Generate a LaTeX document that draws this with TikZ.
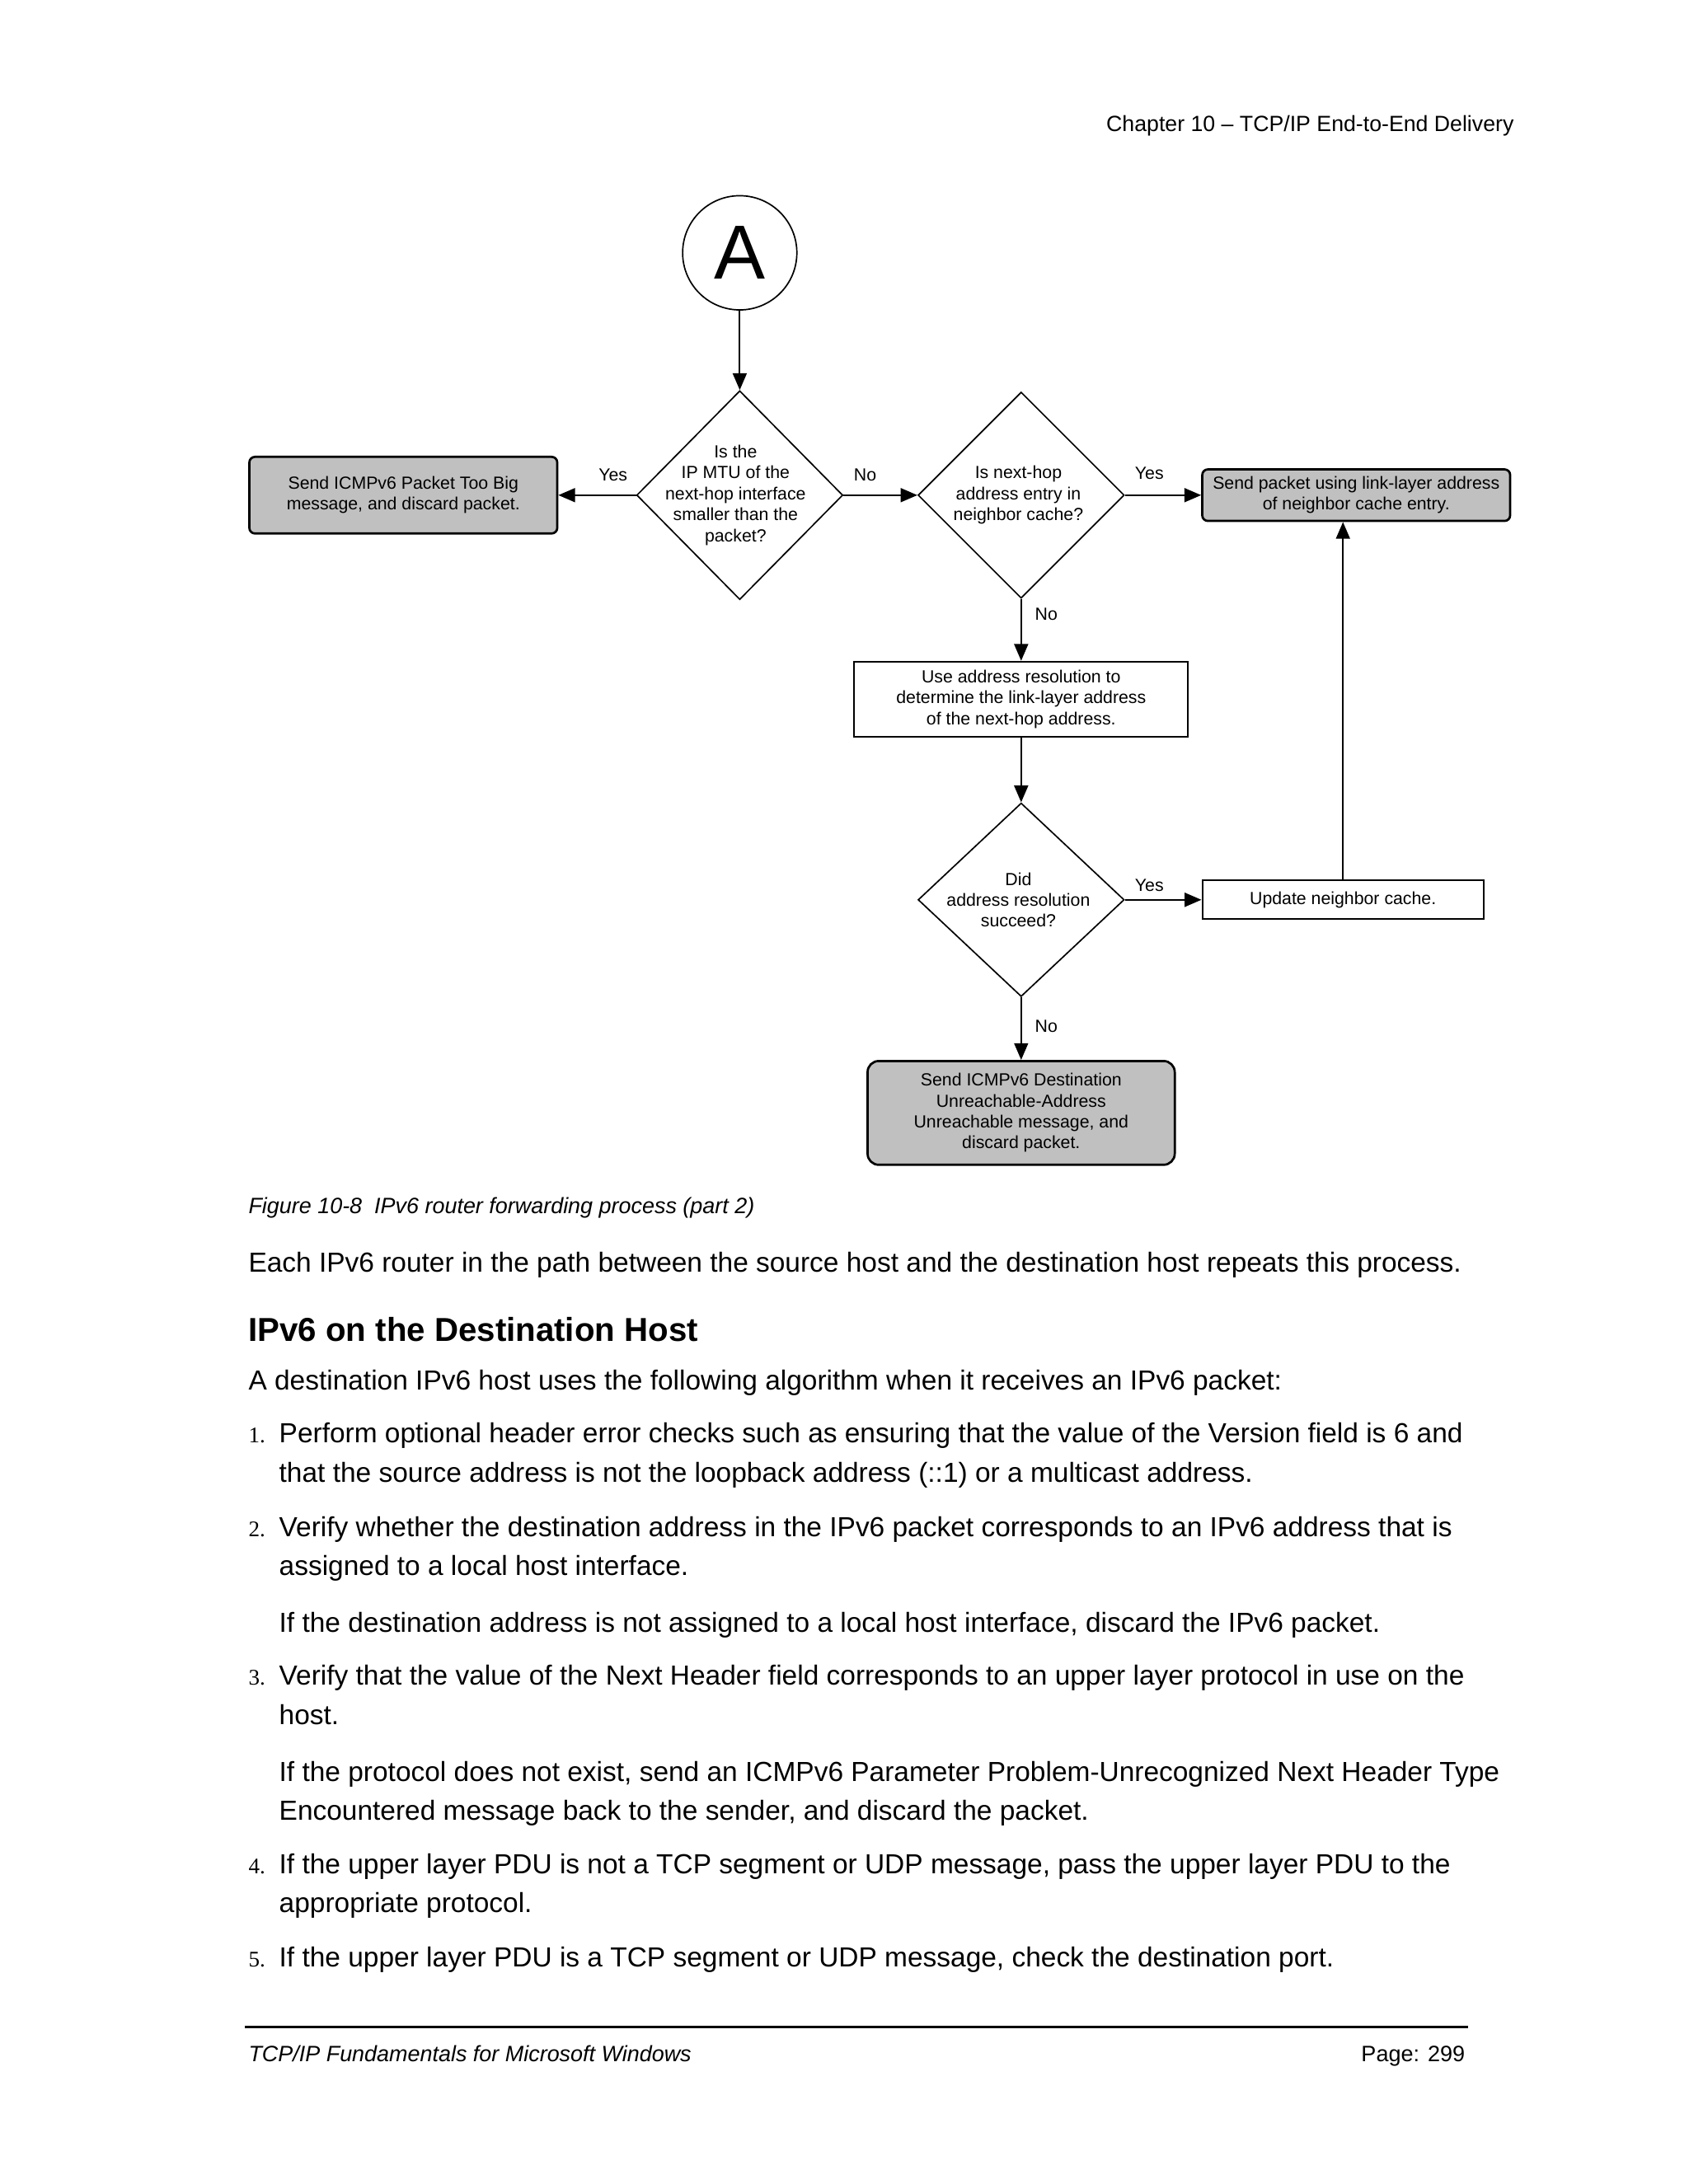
\documentclass[tikz,border=0pt]{standalone}
\usepackage{fontspec}
\setmainfont{Liberation Sans}
\newfontfamily\serifnum{Liberation Serif}
\usetikzlibrary{shapes.geometric,arrows.meta}
\definecolor{boxgray}{RGB}{192,192,192}
\tikzset{
  dfont/.style={font=\fontsize{6.3}{7.5}\selectfont},
  gbox/.style={draw, line width=0.8pt, fill=boxgray, rounded corners=2pt, align=center, inner sep=0pt, dfont},
  wbox/.style={draw, line width=0.6pt, align=center, inner sep=0pt, dfont},
  dia/.style={diamond, draw, line width=0.5pt, inner sep=0pt},
  dtext/.style={dfont, align=center, inner sep=0pt},
  lbl/.style={dfont, inner sep=0pt},
  arr/.style={line width=0.6pt, -{Triangle[length=6pt,width=5pt]}},
  bodytxt/.style={anchor=base west, inner sep=0pt, font=\fontsize{9.9}{12}\selectfont},
  numtxt/.style={anchor=base west, inner sep=0pt, font=\serifnum\fontsize{8}{10}\selectfont},
  smallit/.style={inner sep=0pt, font=\fontsize{7.97}{10}\selectfont\itshape},
}
\begin{document}
\begin{tikzpicture}[x=0.5pt,y=-0.5pt]
\useasboundingbox (0,0) rectangle (1212,1568);
\fill[white] (0,0) rectangle (1212,1568);

% header
\node[anchor=base east, inner sep=0pt, font=\fontsize{7.9}{10}\selectfont] (hdr) at (1087,94.5) {Chapter 10 -- TCP/IP End-to-End Delivery};

% flowchart
\node[draw, circle, line width=0.5pt, minimum size=41pt, inner sep=0pt, font=\fontsize{27.5}{30}\selectfont] (circA) at (531,181.5) {A};
\node[dia, minimum width=74pt, minimum height=75pt,
      label={[dtext, xshift=-1.5pt]center:{Is the\\IP MTU of the\\next-hop interface\\smaller than the\\packet?}}] (d1) at (531,355.5) {};
\node[gbox, minimum width=110.5pt, minimum height=27.5pt] (box1) at (289.5,355.5) {Send ICMPv6 Packet Too Big\\message, and discard packet.};
\node[dia, minimum width=74pt, minimum height=74pt,
      label={[dtext, xshift=-1pt]center:{Is next-hop\\address entry in\\neighbor cache?}}] (d2) at (733,355.5) {};
\node[gbox, minimum width=110.5pt, minimum height=18.5pt] (box2) at (973.5,355.5) {Send packet using link-layer address\\of neighbor cache entry.};
\node[wbox, minimum width=119.75pt, minimum height=27pt] (box3) at (733,502) {Use address resolution to\\determine the link-layer address\\of the next-hop address.};
\node[dia, minimum width=74pt, minimum height=69.5pt,
      label={[dtext, xshift=-1pt]center:{Did\\address resolution\\succeed?}}] (d3) at (733,646) {};
\node[wbox, minimum width=101pt, minimum height=14pt] (box4) at (964,646) {Update neighbor cache.};
\node[gbox, rounded corners=4pt, minimum width=110.25pt, minimum height=37.25pt] (box5) at (733,799) {Send ICMPv6 Destination\\Unreachable-Address\\Unreachable message, and\\discard packet.};

\draw[arr] (circA) -- (d1.north);
\draw[arr] (d1.west) -- (box1.east);
\draw[arr] (d1.east) -- (d2.west);
\draw[arr] (d2.east) -- (box2.west);
\draw[arr] (d2.south) -- (box3.north);
\draw[arr] (box3.south) -- (d3.north);
\draw[arr] (d3.east) -- (box4.west);
\draw[arr] (d3.south) -- (box5.north);
\draw[arr] (box4.north) -- (box4.north |- box2.south);

\node[lbl] (yes1) at (440,341) {Yes};
\node[lbl] (no1) at (621,341) {No};
\node[lbl] (yes2) at (825,339.6) {Yes};
\node[lbl] (no2) at (751,441) {No};
\node[lbl] (yes3) at (825,635.6) {Yes};
\node[lbl] (no3) at (751,737) {No};

% caption and text
\node[smallit, anchor=base west] (cap) at (178,871) {Figure 10-8\ \ IPv6 router forwarding process (part 2)};
\node[bodytxt] (p1) at (178,913) {Each IPv6 router in the path between the source host and the destination host repeats this process.};
\node[anchor=base west, inner sep=0pt, font=\fontsize{11.9}{14}\selectfont\bfseries] (head) at (178,963) {IPv6 on the Destination Host};
\node[bodytxt] (p2) at (178,998) {A destination IPv6 host uses the following algorithm when it receives an IPv6 packet:};

\node[numtxt] (n1) at (178,1036) {1.};
\node[bodytxt] (i1a) at (200,1036) {Perform optional header error checks such as ensuring that the value of the Version field is 6 and};
\node[bodytxt] (i1b) at (200,1064) {that the source address is not the loopback address (::1) or a multicast address.};

\node[numtxt] (n2) at (178,1103) {2.};
\node[bodytxt] (i2a) at (200,1103) {Verify whether the destination address in the IPv6 packet corresponds to an IPv6 address that is};
\node[bodytxt] (i2b) at (200,1131) {assigned to a local host interface.};
\node[bodytxt] (i2c) at (200,1172) {If the destination address is not assigned to a local host interface, discard the IPv6 packet.};

\node[numtxt] (n3) at (178,1210) {3.};
\node[bodytxt] (i3a) at (200,1210) {Verify that the value of the Next Header field corresponds to an upper layer protocol in use on the};
\node[bodytxt] (i3b) at (200,1238) {host.};
\node[bodytxt] (i3c) at (200,1279) {If the protocol does not exist, send an ICMPv6 Parameter Problem-Unrecognized Next Header Type};
\node[bodytxt] (i3d) at (200,1307) {Encountered message back to the sender, and discard the packet.};

\node[numtxt] (n4) at (178,1345) {4.};
\node[bodytxt] (i4a) at (200,1345) {If the upper layer PDU is not a TCP segment or UDP message, pass the upper layer PDU to the};
\node[bodytxt] (i4b) at (200,1373) {appropriate protocol.};

\node[numtxt] (n5) at (178,1412) {5.};
\node[bodytxt] (i5a) at (200,1412) {If the upper layer PDU is a TCP segment or UDP message, check the destination port.};

% footer
\draw[line width=0.9pt] (176,1455) -- (1054,1455);
\node[smallit, anchor=base west] (foot) at (178,1480) {TCP/IP Fundamentals for Microsoft Windows};
\node[anchor=base east, inner sep=0pt, font=\fontsize{8}{10}\selectfont] (page) at (1052,1480) {Page: 299};
\end{tikzpicture}
\end{document}
